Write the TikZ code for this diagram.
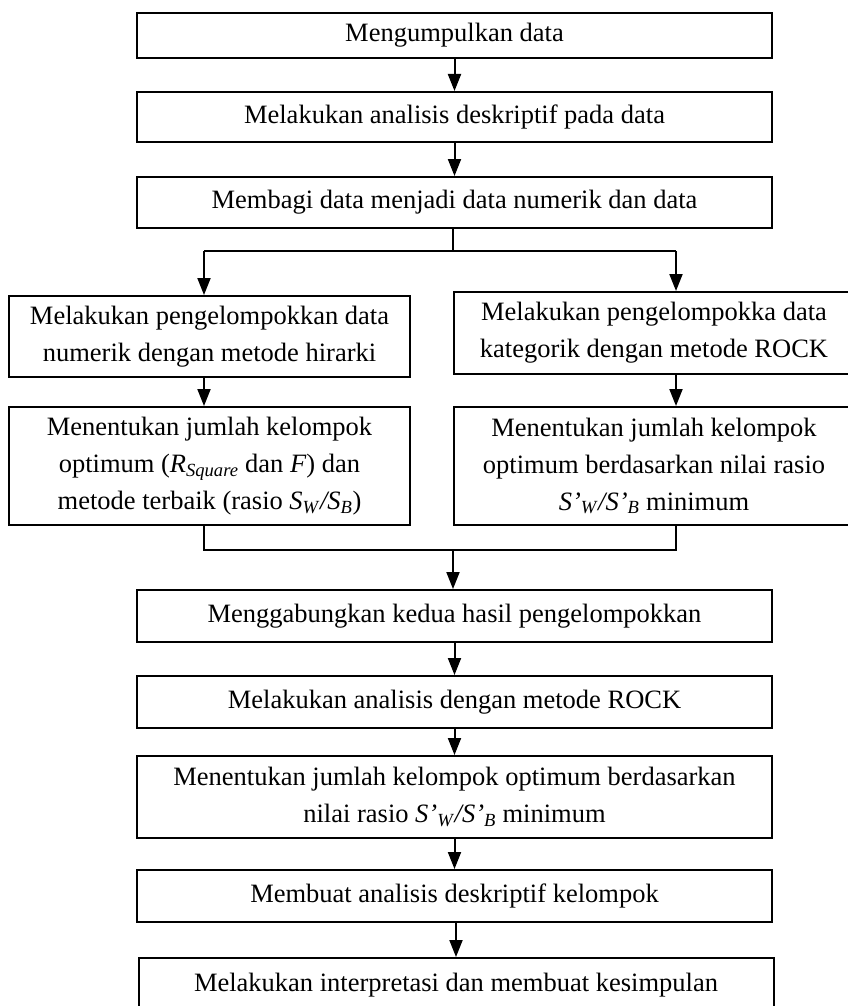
\documentclass[tikz,border=0pt]{standalone}
\usepackage{fontspec}
\setmainfont{Liberation Serif}
\usepackage{tikz}
\usetikzlibrary{arrows.meta,positioning}

\begin{document}
\begin{tikzpicture}[x=1pt,y=1pt,
	box/.style={draw,line width=2pt,inner sep=0pt,align=center,
		font=\fontsize{26.5}{37}\selectfont},
	arr/.style={line width=2pt,-{Triangle[width=13pt,length=17pt]}},
	ln/.style={line width=1.3pt}]

	\useasboundingbox (0,0) rectangle (848,-1006);

	\node[box,minimum width=635pt,minimum height=45pt] (kumpul) at (454.5,-35.5) {Mengumpulkan data};
	\node[box,minimum width=635pt,minimum height=50pt] (deskripsi) at (454.5,-117) {Melakukan analisis deskriptif pada data};
	\node[box,minimum width=635pt,minimum height=51pt] (bagi) at (454.5,-202.5) {Membagi data menjadi data numerik dan data};

	\node[box,minimum width=401pt,minimum height=81pt] (hirarki) at (209.5,-336.5) {Melakukan pengelompokkan data\\numerik dengan metode hirarki};
	\node[box,minimum width=400pt,minimum height=82pt] (rock) at (654,-333) {Melakukan pengelompokka data\\kategorik dengan metode ROCK};
	\node[box,minimum width=401pt,minimum height=118pt] (optnum) at (209.5,-466) {Menentukan jumlah kelompok\\optimum (\textit{R}\textsubscript{\textit{Square}} dan \textit{F}) dan\\metode terbaik (rasio \textit{S}\textsubscript{\textit{W}}\textit{/S}\textsubscript{\textit{B}})};
	\node[box,minimum width=400pt,minimum height=118pt] (optkat) at (654,-466) {Menentukan jumlah kelompok\\optimum berdasarkan nilai rasio\\\textit{S’}\textsubscript{\textit{W}}\textit{/S’}\textsubscript{\textit{B}} minimum};

	\node[box,minimum width=635pt,minimum height=52pt] (gabung) at (454.5,-616) {Menggabungkan kedua hasil pengelompokkan};
	\node[box,minimum width=635pt,minimum height=52pt] (analisis) at (454.5,-702) {Melakukan analisis dengan metode ROCK};
	\node[box,minimum width=635pt,minimum height=82pt] (optimum) at (454.5,-797) {Menentukan jumlah kelompok optimum berdasarkan\\nilai rasio \textit{S’}\textsubscript{\textit{W}}\textit{/S’}\textsubscript{\textit{B}} minimum};
	\node[box,minimum width=635pt,minimum height=52pt] (profil) at (454.5,-896) {Membuat analisis deskriptif kelompok};
	\node[box,minimum width=635pt,minimum height=54pt] (simpul) at (456,-985) {Melakukan interpretasi dan membuat kesimpulan};

	% split and join points
	\coordinate (split) at (453,-251);
	\coordinate (sl) at (204,-251);
	\coordinate (sr) at (676,-251);
	\coordinate (join) at (453,-550);
	\coordinate (jl) at (204,-550);
	\coordinate (jr) at (676,-550);

	\draw[arr] (kumpul) -- (deskripsi);
	\draw[arr] (deskripsi) -- (bagi);
	\draw[ln] (bagi.south -| split) -- (split);
	\draw[ln] (sl) -- (sr);
	\draw[arr] (sl) -- (sl |- hirarki.north);
	\draw[arr] (sr) -- (sr |- rock.north);
	\draw[arr] (hirarki.south -| sl) -- (sl |- optnum.north);
	\draw[arr] (rock.south -| sr) -- (sr |- optkat.north);
	\draw[ln] (optnum.south -| jl) -- (jl) -- (jr) -- (optkat.south -| jr);
	\draw[arr] (join) -- (gabung.north -| join);
	\draw[arr] (gabung) -- (analisis);
	\draw[arr] (analisis) -- (optimum);
	\draw[arr] (optimum) -- (profil);
	\draw[arr] (profil.south -| simpul) -- (simpul);

\end{tikzpicture}
\end{document}
